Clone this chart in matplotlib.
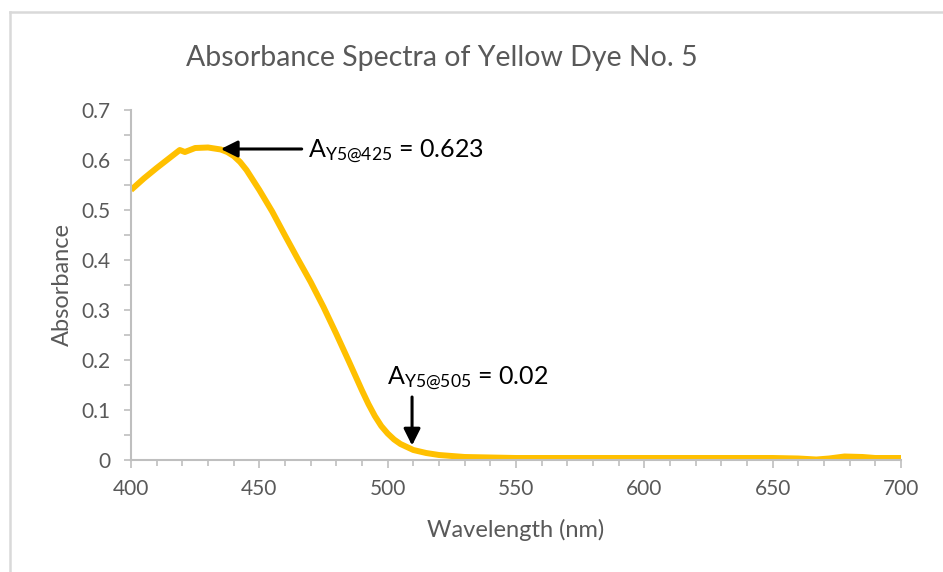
import matplotlib
matplotlib.use("Agg")
import matplotlib.pyplot as plt
from matplotlib.lines import Line2D
from matplotlib.ticker import MultipleLocator

plt.rcParams['font.family'] = ['Lato', 'DejaVu Sans']
plt.rcParams['mathtext.fontset'] = 'custom'
plt.rcParams['mathtext.rm'] = 'Lato'
plt.rcParams['mathtext.it'] = 'Lato:italic'
plt.rcParams['mathtext.bf'] = 'Lato:bold'

wavelength = [400, 405, 410, 415, 419, 421, 425, 430, 435, 437.5, 440, 442.5,
              445, 450, 455, 460, 465, 470, 475, 480, 485, 490, 492.5, 495,
              497.5, 500, 502.5, 505, 510, 515, 520, 530, 540, 550, 600, 650,
              660, 667, 672, 678, 685, 690, 700]
absorbance = [0.540, 0.563, 0.584, 0.604, 0.620, 0.616, 0.624, 0.625, 0.621,
              0.616, 0.608, 0.596, 0.580, 0.540, 0.497, 0.449, 0.402, 0.356,
              0.306, 0.252, 0.196, 0.139, 0.112, 0.088, 0.068, 0.053, 0.041,
              0.032, 0.020, 0.014, 0.010, 0.006, 0.005, 0.004, 0.004, 0.004,
              0.003, 0.001, 0.003, 0.007, 0.006, 0.004, 0.004]

title = "Absorbance Spectra of Yellow Dye No. 5"
xlabel = "Wavelength (nm)"
ylabel = "Absorbance"
note1 = r"A$_{\mathrm{Y5@425}}$ = 0.623"
note2 = r"A$_{\mathrm{Y5@505}}$ = 0.02"
peak_tip = (435, 0.622)
peak_tail = (466.5, 0.622)
low_tip = (509.5, 0.029)
low_tail = (509.5, 0.126)

fig = plt.figure(figsize=(9.43, 5.72), dpi=100)
ax = fig.add_axes([131/943, 1 - 460/572, 770/943, 350/572])

ax.plot(wavelength, absorbance, color='#FFC000', lw=4.3, solid_capstyle='butt',
        solid_joinstyle='round')

ax.set_xlim(400, 700)
ax.set_ylim(0, 0.7)
ax.xaxis.set_major_locator(MultipleLocator(50))
ax.xaxis.set_minor_locator(MultipleLocator(10))
ax.yaxis.set_major_locator(MultipleLocator(0.1))
ax.yaxis.set_minor_locator(MultipleLocator(0.05))
ax.yaxis.set_major_formatter(matplotlib.ticker.FuncFormatter(lambda v, p: '0' if abs(v) < 1e-9 else f'{v:.1f}'))

for s in ['top', 'right']:
    ax.spines[s].set_visible(False)
for s in ['left', 'bottom']:
    ax.spines[s].set_color('#BFBFBF')
    ax.spines[s].set_linewidth(1.5)

ax.tick_params(axis='both', which='both', color='#BFBFBF', width=1.2,
               labelcolor='#595959', labelsize=15)
ax.tick_params(axis='x', which='major', length=6, pad=8)
ax.tick_params(axis='x', which='minor', length=4)
ax.tick_params(axis='y', which='major', length=5, pad=10)
ax.tick_params(axis='y', which='minor', length=5)

ax.set_xlabel(xlabel, fontsize=17, color='#595959', labelpad=14)
ax.set_ylabel(ylabel, fontsize=17, color='#595959', labelpad=6)
fig.text(442/943, 1 - 58/572, title, fontsize=20.5, color='#595959',
         ha='center', va='center')

ax.annotate('', xy=peak_tip, xytext=peak_tail,
            arrowprops=dict(arrowstyle='-|>,head_length=1.0,head_width=0.5',
                            color='black', lw=2.2, shrinkA=0, shrinkB=0))
ax.annotate('', xy=low_tip, xytext=low_tail,
            arrowprops=dict(arrowstyle='-|>,head_length=1.0,head_width=0.5',
                            color='black', lw=2.2, shrinkA=0, shrinkB=0))
ax.text(308/943, 1 - 158/572, note1, transform=fig.transFigure, fontsize=18,
        color='black', ha='left', va='baseline')
ax.text(387/943, 1 - 385/572, note2, transform=fig.transFigure, fontsize=18,
        color='black', ha='left', va='baseline')

border = '#D9D9D9'
fig.add_artist(Line2D([10/943, 1], [1 - 12/572, 1 - 12/572], color=border, lw=1.8,
                      transform=fig.transFigure))
fig.add_artist(Line2D([10/943, 10/943], [0, 1 - 12/572], color=border, lw=1.8,
                      transform=fig.transFigure))

fig.savefig('out.png', dpi=100, facecolor='white')
